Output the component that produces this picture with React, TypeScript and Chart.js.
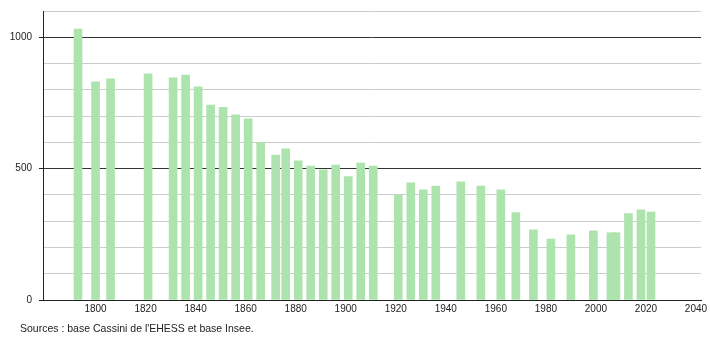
import React, { useEffect, useRef } from "react";
import { Chart, registerables } from "chart.js";

Chart.register(...registerables);

const years = [
  1793, 1800, 1806, 1821, 1831, 1836, 1841, 1846, 1851, 1856, 1861, 1866, 1872,
  1876, 1881, 1886, 1891, 1896, 1901, 1906, 1911, 1921, 1926, 1931, 1936, 1946,
  1954, 1962, 1968, 1975, 1982, 1990, 1999, 2006, 2008, 2013, 2018, 2022,
];
const population = [
  1031, 830, 842, 861, 846, 856, 811, 742, 733, 705, 690, 599, 552,
  575, 530, 510, 495, 514, 470, 521, 510, 400, 446, 419, 434, 450,
  434, 419, 333, 267, 232, 248, 263, 256, 256, 329, 343, 335,
];
const yearTicks = [1800, 1820, 1840, 1860, 1880, 1900, 1920, 1940, 1960, 1980, 2000, 2020, 2040];
const sourceText = "Sources : base Cassini de l'EHESS et base Insee.";

const FONT_FAMILY = '"Liberation Sans", Arial, sans-serif';

export default function App() {
  const ref = useRef<HTMLCanvasElement>(null);

  useEffect(() => {
    if (!ref.current) return;
    const sourcePlugin = {
      id: "sourceText",
      afterDraw(chart: any) {
        const ctx = chart.ctx;
        ctx.save();
        ctx.font = `10.5px ${FONT_FAMILY}`;
        ctx.fillStyle = "#222";
        ctx.textBaseline = "middle";
        ctx.textAlign = "left";
        ctx.fillText(sourceText, 20, 329);
        ctx.restore();
      },
    };
    const chart = new Chart(ref.current, {
      type: "bar",
      data: {
        datasets: [
          {
            data: years.map((y, i) => ({ x: y, y: population[i] })),
            backgroundColor: "#ade3ad",
            borderWidth: 0,
            barThickness: 8,
          },
        ],
      },
      options: {
        animation: false,
        responsive: false,
        maintainAspectRatio: false,
        layout: { padding: { top: 11, right: 9, left: 0, bottom: 0 } },
        plugins: { legend: { display: false }, tooltip: { enabled: false } },
        scales: {
          x: {
            type: "linear",
            min: 1779,
            max: 2042,
            offset: false,
            afterBuildTicks: (s: any) => {
              s.ticks = yearTicks.map((v) => ({ value: v }));
            },
            afterFit: (s: any) => {
              s.height = 40;
              s.paddingLeft = 0;
              s.paddingRight = 0;
            },
            grid: { display: false, drawTicks: false },
            border: { display: true, color: "#222" },
            ticks: {
              padding: 3,
              autoSkip: false,
              maxRotation: 0,
              color: "#222",
              font: { family: FONT_FAMILY, size: 10 },
              callback: (v: any) => String(v),
            },
          },
          y: {
            min: 0,
            max: 1100,
            afterFit: (s: any) => {
              s.width = 43;
              s.paddingTop = 0;
              s.paddingBottom = 0;
            },
            grid: {
              color: (c: any) => (c.tick && c.tick.value % 500 === 0 ? "#333" : "#cccccc"),
              tickColor: (c: any) => (c.tick && c.tick.value % 500 === 0 ? "#222" : "rgba(0,0,0,0)"),
              tickLength: 4,
            },
            border: { display: true, color: "#222" },
            ticks: {
              stepSize: 100,
              autoSkip: false,
              padding: 7,
              color: "#222",
              font: { family: FONT_FAMILY, size: 10 },
              callback: (v: any) => (Number(v) % 500 === 0 ? String(v) : ""),
            },
          },
        },
      },
      plugins: [sourcePlugin],
    } as any);
    return () => chart.destroy();
  }, []);

  return (
    <div style={{ position: "fixed", left: 0, top: 0, width: 710, height: 340, background: "#fff" }}>
      <canvas ref={ref} width={710} height={340} style={{ display: "block" }} />
    </div>
  );
}
